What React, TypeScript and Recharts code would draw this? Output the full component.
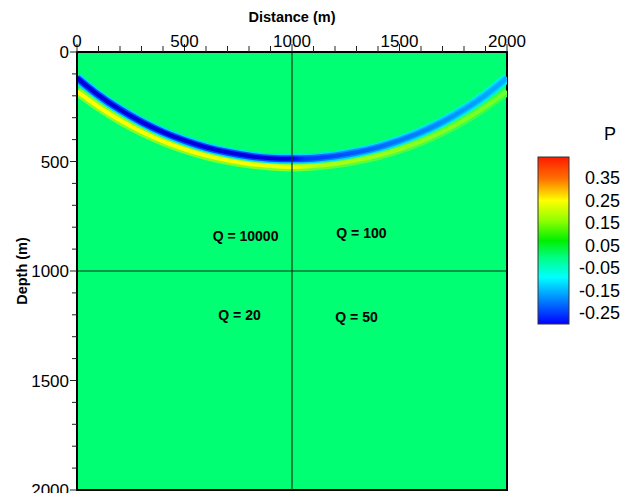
import React from "react";
import {
  ComposedChart,
  Line,
  XAxis,
  YAxis,
  ReferenceArea,
  ReferenceLine,
  ReferenceDot,
} from "recharts";

// ---- data ----
const distances = [0, 100, 200, 300, 400, 500, 600, 700, 800, 900, 1000, 1100, 1200, 1300, 1400, 1500, 1600, 1700, 1800, 1900, 2000];
// depth of the (negative) trough of the wavefront, m
const troughDepth = [118, 197, 263, 319, 366, 404, 435, 458, 475, 485, 488, 485, 475, 458, 435, 404, 366, 319, 263, 197, 118];
// depth of the (positive) crest following the trough, m
const crestDepth = [180, 250, 312, 364, 408, 444, 473, 495, 511, 521, 525, 521, 511, 495, 473, 444, 408, 364, 312, 250, 180];

const xTicks = [0, 100, 200, 300, 400, 500, 600, 700, 800, 900, 1000, 1100, 1200, 1300, 1400, 1500, 1600, 1700, 1800, 1900, 2000];
const yTicks = [0, 100, 200, 300, 400, 500, 600, 700, 800, 900, 1000, 1100, 1200, 1300, 1400, 1500, 1600, 1700, 1800, 1900, 2000];

const qLabels = ["Q = 10000", "Q = 100", "Q = 20", "Q = 50"];
const qX = [784, 1323, 756, 1300];
const qY = [840, 826, 1201, 1210];

const colorbarLabels = ["0.35", "0.25", "0.15", "0.05", "-0.05", "-0.15", "-0.25"];

const data = distances.map((x, i) => ({ x, trough: troughDepth[i], crest: crestDepth[i] }));

const FONT = '"Liberation Sans", Arial, Helvetica, sans-serif';
const BG = "#00FF73";

const XTick = (props: any) => {
  const { x, y, payload } = props;
  const major = payload.value % 500 === 0;
  return (
    <g>
      <line x1={x} x2={x} y1={y} y2={y - (major ? 8 : 6)} stroke="#222" strokeWidth={1} />
      {major && (
        <text x={x} y={y - 5} textAnchor="middle" fontSize={17} fontFamily={FONT} fill="#000">
          {payload.value}
        </text>
      )}
    </g>
  );
};

const YTick = (props: any) => {
  const { x, y, payload } = props;
  const major = payload.value % 500 === 0;
  return (
    <g>
      <line x1={x} x2={x - (major ? 7 : 5)} y1={y} y2={y} stroke="#222" strokeWidth={1} />
      {major && (
        <text x={x - 8} y={y + 6} textAnchor="end" fontSize={17} fontFamily={FONT} fill="#000">
          {payload.value}
        </text>
      )}
    </g>
  );
};

const QLabel = (text: string) => (props: any) => {
  const { viewBox } = props;
  const cx = viewBox.x + (viewBox.width || 0) / 2;
  const cy = viewBox.y + (viewBox.height || 0) / 2;
  return (
    <text x={cx} y={cy + 5} textAnchor="middle" fontSize={14} fontWeight="bold" fontFamily={FONT} fill="#000">
      {text}
    </text>
  );
};

export default function App() {
  return (
    <div
      style={{
        position: "fixed",
        left: 0,
        top: 0,
        width: 633,
        height: 493,
        background: "#fff",
        fontFamily: FONT,
        overflow: "hidden",
      }}
    >
      <ComposedChart width={633} height={493} data={data} margin={{ top: 0, right: 126, bottom: 3, left: 0 }}>
        <defs>
          <linearGradient id="gOuter" x1="0" y1="0" x2="1" y2="0">
            <stop offset="0" stopColor="#00d8ff" />
            <stop offset="0.5" stopColor="#00d8ff" />
            <stop offset="1" stopColor="#00f4e8" />
          </linearGradient>
          <linearGradient id="gMid" x1="0" y1="0" x2="1" y2="0">
            <stop offset="0" stopColor="#0048ff" />
            <stop offset="0.5" stopColor="#0048ff" />
            <stop offset="0.6" stopColor="#0088ff" />
            <stop offset="1" stopColor="#00d0ff" />
          </linearGradient>
          <linearGradient id="gCore" x1="0" y1="0" x2="1" y2="0">
            <stop offset="0" stopColor="#0000d8" />
            <stop offset="0.5" stopColor="#0000e0" />
            <stop offset="0.53" stopColor="#0038ff" />
            <stop offset="0.75" stopColor="#0078ff" />
            <stop offset="1" stopColor="#00b0ff" />
          </linearGradient>
          <linearGradient id="gCrestOuter" x1="0" y1="0" x2="1" y2="0">
            <stop offset="0" stopColor="#80ff28" />
            <stop offset="0.5" stopColor="#80ff28" />
            <stop offset="0.56" stopColor="#60ff38" />
            <stop offset="1" stopColor="#30ff50" />
          </linearGradient>
          <linearGradient id="gCrestCore" x1="0" y1="0" x2="1" y2="0">
            <stop offset="0" stopColor="#ffff00" />
            <stop offset="0.5" stopColor="#f4ff00" />
            <stop offset="0.56" stopColor="#b0ff10" />
            <stop offset="1" stopColor="#70ff28" />
          </linearGradient>
        </defs>
        <XAxis
          dataKey="x"
          type="number"
          orientation="top"
          domain={[0, 2000]}
          allowDataOverflow
          ticks={xTicks}
          interval={0}
          height={52}
          tickSize={0}
          tickMargin={0}
          tickLine={false}
          axisLine={{ stroke: "#000", strokeWidth: 2 }}
          tick={XTick}
          label={(p: any) => (
            <text x={292} y={22} textAnchor="middle" fontSize={14.5} fontWeight="bold" fontFamily={FONT} fill="#000">
              Distance (m)
            </text>
          )}
        />
        <YAxis
          type="number"
          reversed
          domain={[0, 2000]}
          allowDataOverflow
          ticks={yTicks}
          interval={0}
          width={77}
          tickSize={0}
          tickMargin={0}
          tickLine={false}
          axisLine={{ stroke: "#000", strokeWidth: 2 }}
          tick={YTick}
          label={(p: any) => (
            <text
              x={27}
              y={271}
              transform="rotate(-90 27 271)"
              textAnchor="middle"
              fontSize={14.5}
              fontWeight="bold"
              fontFamily={FONT}
              fill="#000"
            >
              Depth (m)
            </text>
          )}
        />
        <ReferenceArea x1={0} x2={2000} y1={0} y2={2000} fill={BG} fillOpacity={1} stroke="#000" strokeWidth={2} />
        <Line dataKey="crest" type="natural" stroke="url(#gCrestOuter)" strokeWidth={9} dot={false} activeDot={false} isAnimationActive={false} />
        <Line dataKey="crest" type="natural" stroke="url(#gCrestCore)" strokeWidth={4} dot={false} activeDot={false} isAnimationActive={false} />
        <Line dataKey="trough" type="natural" stroke="url(#gOuter)" strokeWidth={10} dot={false} activeDot={false} isAnimationActive={false} />
        <Line dataKey="trough" type="natural" stroke="url(#gMid)" strokeWidth={7} dot={false} activeDot={false} isAnimationActive={false} />
        <Line dataKey="trough" type="natural" stroke="url(#gCore)" strokeWidth={4} dot={false} activeDot={false} isAnimationActive={false} />
        <ReferenceLine x={1000} stroke="#0b4a22" strokeWidth={1.3} />
        <ReferenceLine y={1000} stroke="#08301a" strokeWidth={1.2} />
        {qLabels.map((q, i) => (
          <ReferenceDot key={q} x={qX[i]} y={qY[i]} r={0} fill="none" stroke="none" label={QLabel(q)} />
        ))}
      </ComposedChart>
      <svg width={633} height={493} style={{ position: "absolute", left: 0, top: 0, pointerEvents: "none" }}>
        <defs>
          <linearGradient id="cbar" x1="0" y1="0" x2="0" y2="1">
            <stop offset="0" stopColor="#ff1a00" />
            <stop offset="0.13" stopColor="#ff7000" />
            <stop offset="0.26" stopColor="#ffff00" />
            <stop offset="0.38" stopColor="#90ff00" />
            <stop offset="0.5" stopColor="#00f000" />
            <stop offset="0.6" stopColor="#00ff80" />
            <stop offset="0.72" stopColor="#00ffff" />
            <stop offset="0.86" stopColor="#0080ff" />
            <stop offset="1" stopColor="#0000ff" />
          </linearGradient>
        </defs>
        <rect x={538} y={157} width={31} height={167} fill="url(#cbar)" stroke="#333" strokeWidth={1} />
        <text x={610} y={140} textAnchor="middle" fontSize={18} fontFamily={FONT} fill="#000">
          P
        </text>
        {colorbarLabels.map((t, i) => (
          <text key={t} x={620} y={178 + i * 22.5 + 6} textAnchor="end" fontSize={18} fontFamily={FONT} fill="#000">
            {t}
          </text>
        ))}
      </svg>
    </div>
  );
}
